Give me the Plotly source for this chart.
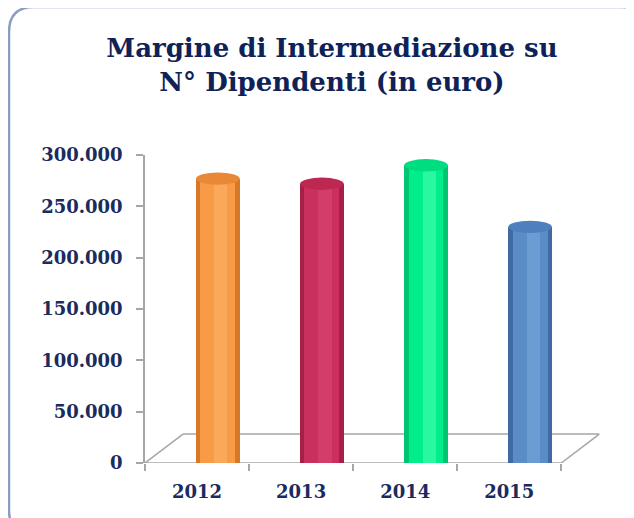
import plotly.graph_objects as go

# ---- data ----
years = ["2012", "2013", "2014", "2015"]
values = [277000, 272000, 290000, 230000]
y_ticks = [0, 50000, 100000, 150000, 200000, 250000, 300000]

dark_colors = ["#D67828", "#A51F46", "#00C472", "#3F6AA2"]
base_colors = ["#F89B46", "#CB2F5E", "#00EE8A", "#5A8CC8"]
light_colors = ["#FCAE62", "#D6446E", "#3CFCAA", "#72A2D8"]
cap_colors = ["#E98938", "#BC2852", "#00DD80", "#4E80BE"]

# page body has an 8px margin -> work in reference pixels, shifted
OX, OY = 8, 8
W, H = 634 - OX, 518 - OY
# plot area in reference pixels
PX0, PX1, PY0, PY1 = 145, 605, 155, 463
L, R, T, B = PX0 - OX, W - (PX1 - OX), PY0 - OY, H - (PY1 - OY)
pw, ph = PX1 - PX0, PY1 - PY0
xr = [-0.5, 3.92]
yr = [0, 300000]

def px2paper_x(px):
    return (px - PX0) / pw

def px2paper_y(py):
    return (PY1 - py) / ph

x_idx = list(range(len(years)))
shift = 0.2   # depth shift of bars (3D look)
bw = 0.42

fig = go.Figure()
# cylinder-like bars: dark full width, base narrower, light highlight
fig.add_trace(go.Bar(x=x_idx, y=values, width=bw, offset=shift - bw / 2,
                     marker=dict(color=dark_colors, line_width=0), hoverinfo="skip"))
fig.add_trace(go.Bar(x=x_idx, y=values, width=bw * 0.8, offset=shift - bw * 0.4,
                     marker=dict(color=base_colors, line_width=0), hoverinfo="skip"))
fig.add_trace(go.Bar(x=x_idx, y=values, width=bw * 0.3, offset=shift - bw * 0.08,
                     marker=dict(color=light_colors, line_width=0, opacity=0.7), hoverinfo="skip"))

shapes = []
cap_h = 6000
for i, v in enumerate(values):
    cx = i + shift
    shapes.append(dict(type="circle", xref="x", yref="y",
                       x0=cx - bw / 2, x1=cx + bw / 2, y0=v - cap_h, y1=v + cap_h,
                       fillcolor=cap_colors[i], line=dict(width=0), layer="above"))

# 3D floor
depth_x = 0.365
depth_y = 28200
floor_col = "#A6A6A6"
for (a, b) in [((-0.5, 0), (3.5, 0)),
               ((-0.5 + depth_x, depth_y), (3.5 + depth_x, depth_y)),
               ((-0.5, 0), (-0.5 + depth_x, depth_y)),
               ((3.5, 0), (3.5 + depth_x, depth_y))]:
    shapes.append(dict(type="line", xref="x", yref="y", x0=a[0], y0=a[1], x1=b[0], y1=b[1],
                       line=dict(color=floor_col, width=1.5), layer="below"))

# frame (rounded rectangle), reference pixels
x0f, y0f, x1f, y1f, rr = 9, 7, 646, 535, 25
path = (f"M {px2paper_x(x0f + rr)},{px2paper_y(y0f)} "
        f"L {px2paper_x(x1f - rr)},{px2paper_y(y0f)} "
        f"Q {px2paper_x(x1f)},{px2paper_y(y0f)} {px2paper_x(x1f)},{px2paper_y(y0f + rr)} "
        f"L {px2paper_x(x1f)},{px2paper_y(y1f - rr)} "
        f"Q {px2paper_x(x1f)},{px2paper_y(y1f)} {px2paper_x(x1f - rr)},{px2paper_y(y1f)} "
        f"L {px2paper_x(x0f + rr)},{px2paper_y(y1f)} "
        f"Q {px2paper_x(x0f)},{px2paper_y(y1f)} {px2paper_x(x0f)},{px2paper_y(y1f - rr)} "
        f"L {px2paper_x(x0f)},{px2paper_y(y0f + rr)} "
        f"Q {px2paper_x(x0f)},{px2paper_y(y0f)} {px2paper_x(x0f + rr)},{px2paper_y(y0f)} Z")
shapes.append(dict(type="path", xref="paper", yref="paper", path=path,
                   line=dict(color="#8C9DC2", width=2.5), layer="below"))

navy = "#1A2B5E"
fig.update_layout(
    width=W, height=H,
    margin=dict(l=L, r=R, t=T, b=B, pad=0),
    paper_bgcolor="white", plot_bgcolor="rgba(0,0,0,0)",
    barmode="overlay", bargap=0, showlegend=False,
    separators=",.",
    title=dict(text="<b>Margine di Intermediazione su<br>N° Dipendenti (in euro)</b>",
               x=(332 - OX) / W, xanchor="center", xref="container",
               y=1 - (57 - OY) / H, yanchor="top", yref="container",
               font=dict(family="DejaVu Serif", size=26, color="#0E2257")),
    shapes=shapes,
    xaxis=dict(range=xr, tickmode="array", tickvals=x_idx, ticktext=years,
               showline=False, showgrid=False, zeroline=False, ticks="", ticklen=0,
               ticklabelstandoff=16,
               tickfont=dict(family="DejaVu Serif", size=18, color=navy, weight="bold"),
               minor=dict(tickmode="array", tickvals=[-0.5, 0.5, 1.5, 2.5, 3.5],
                          ticks="outside", ticklen=7, tickcolor=floor_col, tickwidth=1.5,
                          showgrid=False)),
    yaxis=dict(range=yr, tickmode="array", tickvals=y_ticks, tickformat=",d",
               showline=True, linecolor=floor_col, linewidth=1.5,
               ticks="outside", ticklen=7, tickcolor=floor_col, tickwidth=1.5,
               showgrid=False, zeroline=False, ticklabelstandoff=10,
               tickfont=dict(family="DejaVu Serif", size=18, color=navy, weight="bold")),
)

fig.write_html("out.html")
